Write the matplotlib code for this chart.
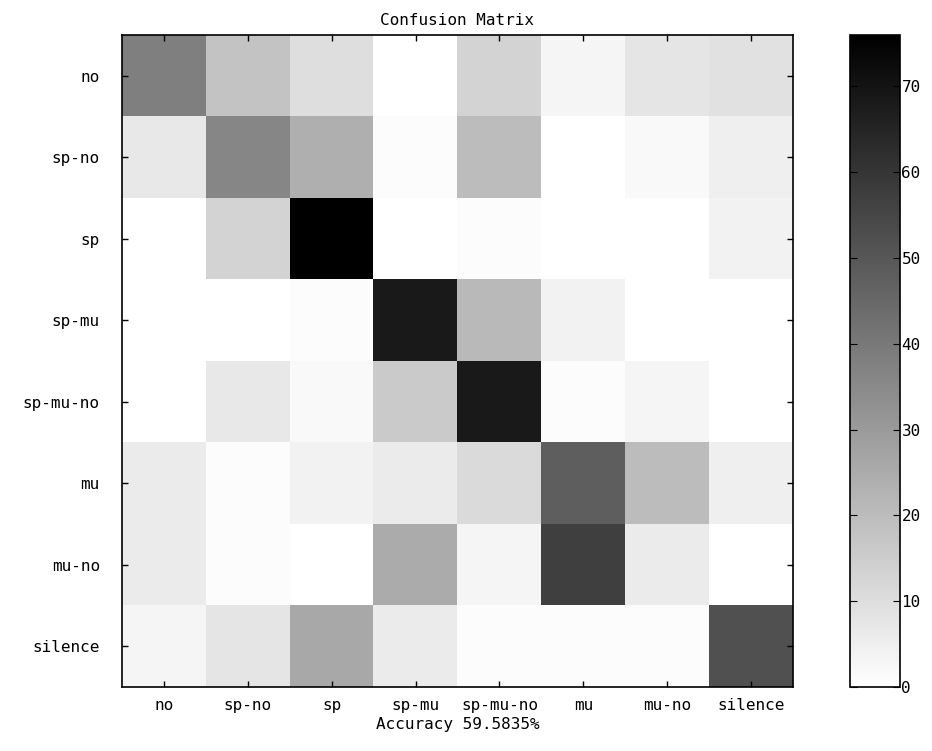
import numpy as np
import matplotlib.pyplot as plt

plt.rcParams['font.family'] = ['DejaVu Sans Mono']

# class labels (rows = true, cols = predicted)
classes = ['no', 'sp-no', 'sp', 'sp-mu', 'sp-mu-no', 'mu', 'mu-no', 'silence']

# confusion matrix values
row_no       = [38, 18, 10, 0, 13, 3, 8, 9]
row_sp_no    = [7, 36, 24, 1, 20, 0, 2, 5]
row_sp       = [0, 13, 76, 0, 1, 0, 0, 4]
row_sp_mu    = [0, 0, 1, 68, 21, 4, 0, 0]
row_sp_mu_no = [0, 7, 2, 16, 68, 1, 3, 0]
row_mu       = [6, 1, 4, 6, 11, 48, 20, 5]
row_mu_no    = [6, 1, 0, 25, 3, 57, 6, 0]
row_silence  = [3, 8, 26, 6, 1, 1, 1, 52]

accuracy = 59.5835

cm = np.array([row_no, row_sp_no, row_sp, row_sp_mu,
               row_sp_mu_no, row_mu, row_mu_no, row_silence])

fs = 11.5

fig = plt.figure(figsize=(9.32, 7.51), dpi=100)
ax = fig.add_axes([122/932, 64/751, 671/932, 652/751])
cax = fig.add_axes([850/932, 64/751, 50/932, 652/751])

im = ax.imshow(cm, cmap='gray_r', vmin=0, vmax=76, aspect='auto',
               interpolation='nearest')

ax.set_xticks(range(len(classes)))
ax.set_xticklabels(classes, fontsize=fs)
ax.set_yticks(range(len(classes)))
ax.set_yticklabels(classes, fontsize=fs)
ax.tick_params(direction='in', top=True, right=True, length=4, width=1)
ax.tick_params(axis='x', pad=8)
ax.tick_params(axis='y', pad=16)
ax.set_title('Confusion Matrix', fontsize=fs, pad=7)
ax.set_xlabel(f'Accuracy {accuracy:.4f}%', fontsize=fs, labelpad=3)
for s in ax.spines.values():
    s.set_linewidth(1.2)

cb = fig.colorbar(im, cax=cax)
cb.set_ticks(np.arange(0, 80, 10))
cax.tick_params(direction='in', left=True, right=True, length=5, labelsize=fs, pad=1)
cb.outline.set_linewidth(1.2)

fig.savefig('out.png', dpi=100)
